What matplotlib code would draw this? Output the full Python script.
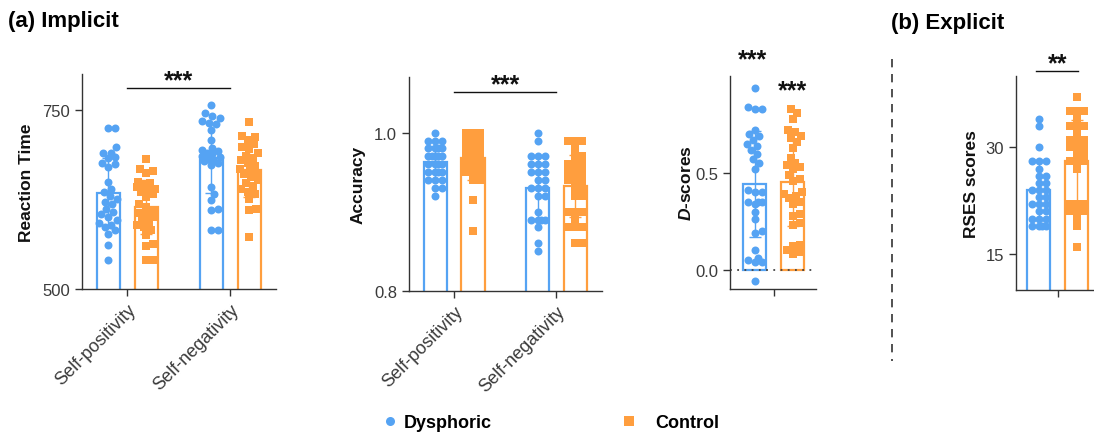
import numpy as np
import matplotlib.pyplot as plt
from matplotlib.lines import Line2D

plt.rcParams['font.family'] = ['Liberation Sans', 'DejaVu Sans']
plt.rcParams['mathtext.fontset'] = 'custom'
plt.rcParams['mathtext.it'] = 'Liberation Sans:italic:bold'

BLUE = '#55A3F3'
ORANGE = '#FF9E3E'
INK = '#333333'

groups = ['Dysphoric', 'Control']
conditions = ['Self-positivity', 'Self-negativity']

# reaction time (ms)
rt_dys_pos = [725, 725, 698, 690, 690, 684, 683, 676, 674, 670, 650, 640, 636, 630, 626,
              622, 618, 612, 608, 604, 600, 596, 592, 590, 586, 582, 577, 562, 541]
rt_con_pos = [682, 668, 664, 662, 650, 648, 645, 642, 640, 638, 636, 633, 628, 618, 615,
              610, 606, 604, 600, 597, 594, 590, 587, 582, 575, 563, 560, 541, 540]
rt_dys_neg = [757, 746, 741, 738, 735, 732, 730, 722, 708, 697, 694, 692, 690, 688, 686,
              684, 682, 680, 678, 676, 673, 643, 633, 624, 612, 610, 583, 582]
rt_con_neg = [733, 714, 712, 708, 702, 698, 695, 690, 686, 683, 680, 676, 672, 668, 665,
              662, 660, 656, 652, 648, 644, 640, 636, 632, 626, 611, 610, 573]

# accuracy
acc_dys_pos = [1.0, 0.99, 0.99, 0.99, 0.98, 0.98, 0.98, 0.98, 0.97, 0.97, 0.97, 0.97, 0.97,
               0.96, 0.96, 0.96, 0.96, 0.95, 0.95, 0.95, 0.95, 0.94, 0.94, 0.94, 0.93, 0.93, 0.92]
acc_con_pos = [1.0, 1.0, 1.0, 0.99, 0.99, 0.99, 0.99, 0.99, 0.98, 0.98, 0.98, 0.98, 0.98,
               0.97, 0.97, 0.97, 0.97, 0.97, 0.96, 0.96, 0.96, 0.95, 0.95, 0.95, 0.94, 0.94,
               0.915, 0.875]
acc_dys_neg = [1.0, 0.99, 0.97, 0.97, 0.97, 0.96, 0.96, 0.96, 0.95, 0.95, 0.95, 0.94, 0.94,
               0.93, 0.93, 0.93, 0.92, 0.92, 0.90, 0.89, 0.89, 0.89, 0.89, 0.88, 0.86, 0.85]
acc_con_neg = [0.99, 0.99, 0.99, 0.98, 0.97, 0.97, 0.96, 0.96, 0.96, 0.96, 0.95, 0.95, 0.95,
               0.94, 0.94, 0.94, 0.93, 0.93, 0.92, 0.92, 0.90, 0.90, 0.90, 0.89, 0.88, 0.88,
               0.88, 0.86, 0.86]

# IAT D-scores
d_dys = [0.94, 0.84, 0.83, 0.83, 0.72, 0.70, 0.69, 0.67, 0.65, 0.64, 0.62, 0.60, 0.57, 0.55,
         0.52, 0.41, 0.40, 0.40, 0.35, 0.35, 0.35, 0.34, 0.30, 0.26, 0.20, 0.19, 0.10, 0.06,
         0.05, 0.04, 0.04, -0.06]
d_con = [0.83, 0.81, 0.78, 0.72, 0.71, 0.69, 0.68, 0.66, 0.63, 0.58, 0.55, 0.54, 0.53, 0.52,
         0.49, 0.47, 0.46, 0.40, 0.39, 0.38, 0.37, 0.35, 0.34, 0.29, 0.28, 0.24, 0.23, 0.13,
         0.12, 0.10, 0.09, 0.08]

# Rosenberg self-esteem
rses_dys = [34, 33, 30, 28, 28, 28, 27, 26, 26, 25, 25, 24, 24, 24, 23, 23, 22, 22, 22, 21,
            21, 20, 20, 20, 19, 19, 19, 19]
rses_con = [37, 35, 35, 35, 34, 33, 33, 33, 32, 31, 31, 31, 30, 30, 30, 29, 29, 28, 28, 28,
            27, 22, 22, 22, 21, 21, 21, 20, 19, 16]

W, H = 1094, 435
fig = plt.figure(figsize=(W / 100, H / 100), dpi=100)


def box(left, top, width, bottom):
    return [left / W, 1 - bottom / H, width / W, (bottom - top) / H]


def swarm(ax, x0, vals, dot=7.0, half=9.0):
    """spread points sideways so they don't pile up (pixel space)"""
    vals = np.asarray(vals, float)
    pts = ax.transData.transform(np.column_stack([np.full(len(vals), x0), vals]))
    xc, ypx = pts[0, 0], pts[:, 1]
    cands = sorted(np.arange(-half, half + 0.5, 1.0), key=lambda c: (abs(c), -c))
    placed, xs = [], np.empty(len(vals))
    for i in np.argsort(ypx):
        best, best_d = 0.0, -1.0
        for c in cands:
            d = min((np.hypot(c - px, ypx[i] - py) for px, py in placed), default=np.inf)
            if d >= dot:
                best = c
                break
            if d > best_d:
                best, best_d = c, d
        placed.append((best, ypx[i]))
        xs[i] = xc + best
    return ax.transData.inverted().transform(np.column_stack([xs, ypx]))[:, 0]


def style(ax, ylim, yticks, ylabel, labelpad):
    ax.set_ylim(*ylim)
    ax.set_yticks(yticks)
    ax.set_ylabel(ylabel, fontsize=12.5, fontweight='bold', labelpad=labelpad, color='#111111')
    for s in ['top', 'right']:
        ax.spines[s].set_visible(False)
    for s in ['left', 'bottom']:
        ax.spines[s].set_color(INK)
        ax.spines[s].set_linewidth(1.0)
    ax.tick_params(colors=INK, length=5, width=1.0, labelsize=12, labelcolor='#3a3a3a')


def draw_group(ax, x, data_pair, off=0.185, width=0.225):
    for k, (vals, col, mk) in enumerate(zip(data_pair, [BLUE, ORANGE], ['o', 's'])):
        xi = x + (-off if k == 0 else off)
        m, sd = np.mean(vals), np.std(vals, ddof=1)
        ax.bar(xi, m, width=width, facecolor='white', edgecolor=col, linewidth=1.6, zorder=1)
        ax.scatter(swarm(ax, xi, vals), vals, s=33, marker=mk, color=col, linewidths=0, zorder=2)
        ax.errorbar(xi, m, yerr=sd, fmt='none', ecolor=col, elinewidth=1.0, capsize=4,
                    capthick=1.0, zorder=3)


def bracket(ax, x1, x2, y, ty, stars, size=18):
    ax.plot([x1, x2], [y, y], color='#111111', lw=1.0, clip_on=False)
    ax.text((x1 + x2) / 2, ty, stars, ha='center', va='center', fontsize=size,
            fontweight='bold', color='#111111', clip_on=False)


# (a) reaction time
ax1 = fig.add_axes(box(82, 75, 193.6, 290))
ax1.set_xlim(-0.44, 1.44)
style(ax1, (500, 800), [500, 750], 'Reaction Time', 6)
draw_group(ax1, 0, [rt_dys_pos, rt_con_pos])
draw_group(ax1, 1, [rt_dys_neg, rt_con_neg])
bracket(ax1, 0, 1, 781, 791, '***')

# (a) accuracy
ax2 = fig.add_axes(box(409, 78.3, 192.5, 291.7))
ax2.set_xlim(-0.44, 1.44)
style(ax2, (0.8, 1.07), [0.8, 1.0], 'Accuracy', 6)
ax2.yaxis.set_major_formatter(plt.FormatStrFormatter('%.1f'))
draw_group(ax2, 0, [acc_dys_pos, acc_con_pos])
draw_group(ax2, 1, [acc_dys_neg, acc_con_neg])
bracket(ax2, 0, 1, 1.052, 1.0615, '***')

for ax in (ax1, ax2):
    ax.set_xticks([0, 1])
    ax.set_xticklabels(conditions, rotation=45, ha='right', rotation_mode='anchor',
                       fontsize=13)

# (a) D-scores
ax3 = fig.add_axes(box(730.3, 77.3, 85.5, 290))
ax3.set_xlim(-0.42, 0.41)
style(ax3, (-0.1, 1.0), [0.0, 0.5], r'$\mathit{D}$-scores', 1)
ax3.yaxis.set_major_formatter(plt.FormatStrFormatter('%.1f'))
ax3.axhline(0, color='#444444', lw=1.3, ls=(0, (1, 3)), zorder=1.5)
draw_group(ax3, 0, [d_dys, d_con])
ax3.set_xticks([0])
ax3.set_xticklabels([''])
ax3.text(-0.2, 1.09, '***', ha='center', va='center', fontsize=18, fontweight='bold',
         color='#111111', clip_on=False)
ax3.text(0.185, 0.925, '***', ha='center', va='center', fontsize=18, fontweight='bold',
         color='#111111')

# (b) RSES
ax4 = fig.add_axes(box(1016, 76.7, 83.4, 291))
ax4.set_xlim(-0.405, 0.405)
style(ax4, (10, 40), [15, 30], 'RSES scores', 5)
draw_group(ax4, 0, [rses_dys, rses_con])
ax4.set_xticks([0])
ax4.set_xticklabels([''])
bracket(ax4, -0.21, 0.2, 40.7, 41.8, '**')

# panel titles and divider
fig.text(8 / W, 1 - 22 / H, '(a) Implicit', fontsize=16, fontweight='bold', va='center')
fig.text(891 / W, 1 - 23 / H, '(b) Explicit', fontsize=16, fontweight='bold', va='center')
fig.add_artist(Line2D([891.7 / W] * 2, [1 - 60 / H, 1 - 362 / H], transform=fig.transFigure,
                      color=INK, lw=1.2, ls=(0, (5, 4))))

# legend
for lab, col, mk, left, pad in [('Dysphoric', BLUE, 'o', 384.6, 0.48),
                                ('Control', ORANGE, 's', 623.6, 1.14)]:
    h = Line2D([], [], ls='none', marker=mk, markersize=6.5, color=col, markeredgewidth=0)
    fig.legend([h], [lab], loc='center left', bbox_to_anchor=(left / W, 1 - 424 / H),
               frameon=False, borderpad=0, borderaxespad=0, handlelength=0.6,
               handletextpad=pad, prop={'weight': 'bold', 'size': 13})

fig.savefig('out.png', dpi=100)
